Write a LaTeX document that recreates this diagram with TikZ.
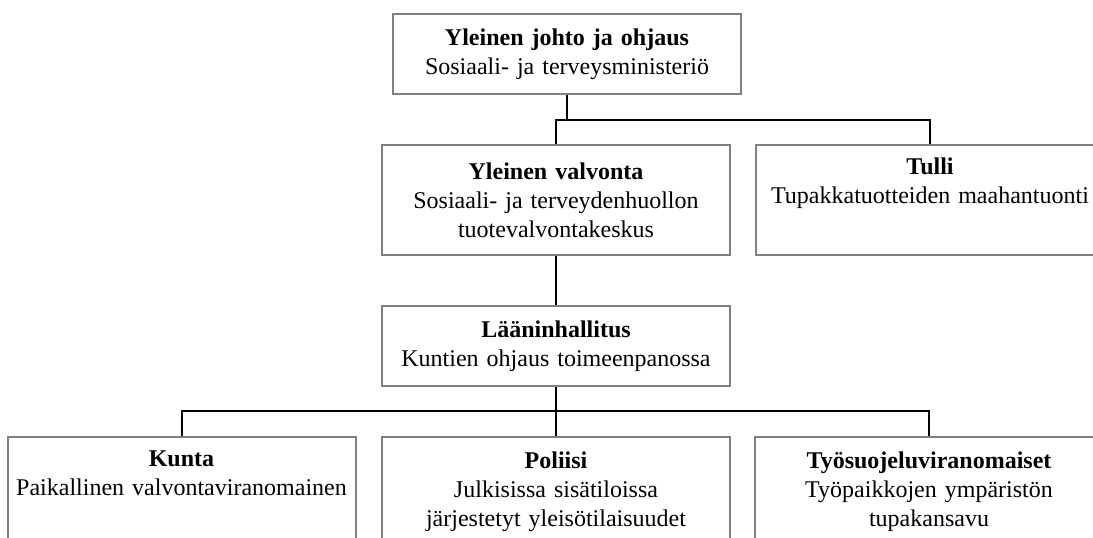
\documentclass[tikz,border=0pt]{standalone}
\usepackage{fontspec}
\setmainfont{Liberation Serif}
\definecolor{boxgray}{HTML}{808080}
\tikzset{
  unit/.style={draw=boxgray, line width=2pt, fill=white, align=center,
    text width=340pt, inner xsep=4pt, inner ysep=0pt, minimum height=110pt,
    font=\fontsize{24}{29}\selectfont},
  link/.style={line width=2pt, black}
}
\begin{document}
\begin{tikzpicture}[x=1pt,y=-1pt]
  \clip (0,0) rectangle (1093,538);
  \node[unit, minimum height=80pt] (ohjaus) at (567,54)
      {\textbf{Yleinen johto ja ohjaus}\\Sosiaali- ja terveysministeriö};
  \node[unit] (valvonta) at (556,200)
      {\textbf{Yleinen valvonta}\\Sosiaali- ja terveydenhuollon\\tuotevalvontakeskus};
  \node[unit] (tulli) at (930,200)
      {\textbf{Tulli}\\Tupakkatuotteiden maahantuonti\\\strut};
  \node[unit, minimum height=80pt] (laani) at (556,346)
      {\textbf{Lääninhallitus}\\Kuntien ohjaus toimeenpanossa};
  \node[unit] (kunta) at (181.5,492)
      {\textbf{Kunta}\\Paikallinen valvontaviranomainen\\\strut};
  \node[unit] (poliisi) at (556,492)
      {\textbf{Poliisi}\\Julkisissa sisätiloissa\\järjestetyt yleisötilaisuudet};
  \node[unit] (tyo) at (929,492)
      {\textbf{Työsuojeluviranomaiset}\\Työpaikkojen ympäristön\\tupakansavu};
  \coordinate (split) at (556,120);
  \coordinate (fork) at (556,411);
  \draw[link] (ohjaus.south) -- (ohjaus.south |- split);
  \draw[link] (valvonta.north) |- (tulli.north |- split) -- (tulli.north);
  \draw[link] (valvonta) -- (laani);
  \draw[link] (laani) -- (poliisi);
  \draw[link] (kunta.north) |- (fork) -| (tyo.north);
\end{tikzpicture}
\end{document}
